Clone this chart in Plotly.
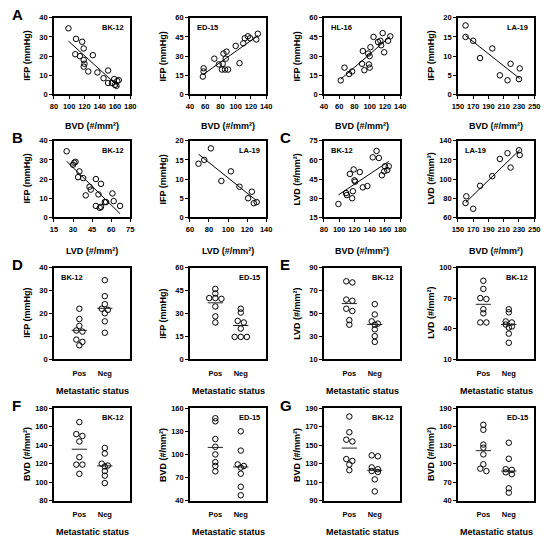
import numpy as np
import plotly.graph_objects as go

# ---------------- data ----------------
# Panel A : IFP vs BVD
A_BK12_bvd = [99, 109, 108, 114, 117, 119, 119, 120, 119, 125, 131, 137, 145, 151, 151, 156, 159, 160, 162, 163, 165]
A_BK12_ifp = [34.5, 29, 21, 20, 27.5, 24, 18, 16, 14.5, 12, 20.5, 11.5, 8.5, 12.5, 6, 6, 8, 5, 4.5, 7, 7.5]
A_ED15_bvd = [57, 58, 58, 72, 78, 82, 83, 84, 86, 87, 88, 90, 100, 105, 110, 112, 116, 119, 127, 129]
A_ED15_ifp = [14, 20.5, 18, 28, 23.5, 19.5, 24, 32, 19.5, 28, 33.5, 19.5, 38, 24.5, 40, 44, 45.5, 44, 43, 47.5]
A_HL16_bvd = [62, 67, 73, 77, 90, 91, 93, 98, 99, 100, 100, 101, 105, 111, 114, 115, 117, 119, 124, 127]
A_HL16_ifp = [11, 21, 16, 18, 24, 34, 19, 32, 23.5, 30, 21, 37, 45, 41, 42, 38.5, 48, 33, 42, 45.5]
A_LA19_bvd = [160, 160, 170, 179, 195, 205, 215, 219, 230, 231]
A_LA19_ifp = [18, 15, 14, 9.5, 12, 5, 3.7, 8, 4, 6.8]
# Panel B : IFP vs LVD
B_BK12_lvd = [25, 30, 31, 32, 34, 35, 38, 40, 43, 44, 48, 48, 50, 51, 52, 55, 56, 61, 62, 67, 52]
B_BK12_ifp = [34.5, 27.5, 28.5, 29, 21, 24, 20.5, 11.5, 16, 14.5, 20, 6, 12, 5, 17.5, 8, 8, 12.5, 8.5, 6, 5.5]
B_LA19_lvd = [69, 75, 82, 93, 103, 112, 121, 125, 127, 130]
B_LA19_ifp = [14, 15, 18, 9.5, 12, 8, 5, 6.7, 3.7, 4]
# Panel C : LVD vs BVD
C_BK12_bvd = [99, 109, 110, 114, 117, 118, 119, 120, 121, 127, 131, 137, 144, 149, 152, 156, 159, 160, 163, 165]
C_BK12_lvd = [25.5, 34, 32.5, 49, 30, 35.5, 52.5, 44, 43, 50.5, 38.5, 39.5, 62, 67, 61.5, 48, 51, 55, 52, 55]
C_LA19_bvd = [160, 161, 170, 179, 195, 205, 215, 219, 230, 231]
C_LA19_lvd = [75, 82, 69, 93, 103, 121, 127, 112, 130, 125]
# Panels D-G : by metastatic status
status_labels = ["Pos", "Neg"]
D_BK12_pos = [22, 17.5, 14.5, 12, 12.5, 8.5, 7.5, 6]
D_BK12_neg = [34.5, 27.5, 24, 21.5, 22, 20, 16.5, 11.5]
D_ED15_pos = [46, 43, 40, 40, 39.5, 34.5, 28, 24]
D_ED15_neg = [33, 30.5, 25, 24, 20, 14.5, 14.5, 14.5]
E_BK12a_pos = [78, 77, 62, 61, 54, 52, 44, 40]
E_BK12a_neg = [58, 49, 43, 41, 40, 36, 30, 25]
E_BK12b_pos = [87, 79, 70, 69, 59, 55, 46, 46]
E_BK12b_neg = [59, 56, 47, 46, 44, 42, 41, 35, 26]
F_BK12_pos = [165, 152, 150, 144, 127, 119, 119, 109]
F_BK12_neg = [137, 131, 120, 118, 117, 112, 107, 99]
F_ED15_pos = [147, 143, 120, 110, 100, 90, 85, 78]
F_ED15_neg = [130, 105, 87, 85, 83, 75, 58, 47]
G_BK12_pos = [181, 164, 156, 154, 135, 133, 129, 123]
G_BK12_neg = [139, 138, 126, 124, 122, 121, 113, 100]
G_ED15_pos = [163, 155, 131, 126, 115, 99, 92, 88]
G_ED15_neg = [134, 108, 91, 90, 86, 83, 60, 53]

IFP_T = "IFP (mmHg)"
BVD_T = "BVD (#/mm²)"
LVD_T = "LVD (#/mm²)"
MET_T = "Metastatic status"

# ---------------- layout geometry ----------------
W, H = 550, 545
COL_L = [49, 188, 325, 462]
BOX_W = 78
ROWS = [(14, 92), (139, 217), (268, 361), (411, 505)]
XT_Y = [124, 251, 393, 537]
FONT = "Liberation Sans, Arial, sans-serif"

panels = [
    dict(kind="sc", x=A_BK12_bvd, y=A_BK12_ifp, xr=(80, 180), xd=20, yr=(0, 40), yd=10, xt=BVD_T, yt=IFP_T, tag="BK-12", side="r", r=0, c=0),
    dict(kind="sc", x=A_ED15_bvd, y=A_ED15_ifp, xr=(40, 140), xd=20, yr=(0, 60), yd=15, xt=BVD_T, yt=IFP_T, tag="ED-15", side="l", r=0, c=1),
    dict(kind="sc", x=A_HL16_bvd, y=A_HL16_ifp, xr=(40, 140), xd=20, yr=(0, 60), yd=15, xt=BVD_T, yt=IFP_T, tag="HL-16", side="l", r=0, c=2),
    dict(kind="sc", x=A_LA19_bvd, y=A_LA19_ifp, xr=(150, 250), xd=20, yr=(0, 20), yd=5, xt=BVD_T, yt=IFP_T, tag="LA-19", side="r", r=0, c=3),
    dict(kind="sc", x=B_BK12_lvd, y=B_BK12_ifp, xr=(15, 75), xd=15, yr=(0, 40), yd=10, xt=LVD_T, yt=IFP_T, tag="BK-12", side="r", r=1, c=0),
    dict(kind="sc", x=B_LA19_lvd, y=B_LA19_ifp, xr=(60, 140), xd=20, yr=(0, 20), yd=5, xt=LVD_T, yt=IFP_T, tag="LA-19", side="r", r=1, c=1),
    dict(kind="sc", x=C_BK12_bvd, y=C_BK12_lvd, xr=(80, 180), xd=20, yr=(15, 75), yd=15, xt=BVD_T, yt=LVD_T, tag="BK-12", side="l", r=1, c=2),
    dict(kind="sc", x=C_LA19_bvd, y=C_LA19_lvd, xr=(150, 250), xd=20, yr=(60, 140), yd=20, xt=BVD_T, yt=LVD_T, tag="LA-19", side="l", r=1, c=3),
    dict(kind="cat", p=D_BK12_pos, n=D_BK12_neg, yr=(0, 40), yd=10, xt=MET_T, yt=IFP_T, tag="BK-12", side="l", r=2, c=0),
    dict(kind="cat", p=D_ED15_pos, n=D_ED15_neg, yr=(0, 60), yd=15, xt=MET_T, yt=IFP_T, tag="ED-15", side="r", r=2, c=1),
    dict(kind="cat", p=E_BK12a_pos, n=E_BK12a_neg, yr=(10, 90), yd=20, xt=MET_T, yt=LVD_T, tag="BK-12", side="r", r=2, c=2),
    dict(kind="cat", p=E_BK12b_pos, n=E_BK12b_neg, yr=(10, 100), yd=30, xt=MET_T, yt=LVD_T, tag="BK-12", side="r", r=2, c=3),
    dict(kind="cat", p=F_BK12_pos, n=F_BK12_neg, yr=(80, 180), yd=20, xt=MET_T, yt=BVD_T, tag="BK-12", side="r", r=3, c=0),
    dict(kind="cat", p=F_ED15_pos, n=F_ED15_neg, yr=(40, 160), yd=30, xt=MET_T, yt=BVD_T, tag="ED-15", side="r", r=3, c=1),
    dict(kind="cat", p=G_BK12_pos, n=G_BK12_neg, yr=(90, 190), yd=20, xt=MET_T, yt=BVD_T, tag="BK-12", side="r", r=3, c=2),
    dict(kind="cat", p=G_ED15_pos, n=G_ED15_neg, yr=(40, 190), yd=30, xt=MET_T, yt=BVD_T, tag="ED-15", side="r", r=3, c=3),
]

letters = [("A", 0, 0), ("B", 1, 0), ("C", 1, 2), ("D", 2, 0), ("E", 2, 2), ("F", 3, 0), ("G", 3, 2)]


def swarm_offsets(vals, span, step=0.24, thr=0.03):
    vals = np.asarray(vals, float)
    order = np.argsort(-vals)
    offs = np.zeros(len(vals))
    groups, cur = [], [order[0]]
    for i in order[1:]:
        if abs(vals[cur[0]] - vals[i]) < thr * span:
            cur.append(i)
        else:
            groups.append(cur)
            cur = [i]
    groups.append(cur)
    for g in groups:
        k = len(g)
        for j, idx in enumerate(g):
            offs[idx] = (j - (k - 1) / 2) * step
    return offs


fig = go.Figure()
layout = {}
ann = []
axis_base = dict(showline=True, linecolor="black", linewidth=1.5, mirror=True,
                 showgrid=False, zeroline=False, fixedrange=True, tickangle=0,
                 tickfont=dict(family=FONT, size=7.5, color="black", weight="bold"))

marker = dict(symbol="circle-open", size=5.5, color="black", line=dict(width=1, color="black"))

for k, p in enumerate(panels):
    sfx = "" if k == 0 else str(k + 1)
    x0 = COL_L[p["c"]]
    x1 = x0 + BOX_W
    y0, y1 = ROWS[p["r"]]
    xdom = [x0 / W, x1 / W]
    ydom = [1 - y1 / H, 1 - y0 / H]
    xa = dict(axis_base, domain=xdom, anchor="y" + sfx)
    ya = dict(axis_base, domain=ydom, anchor="x" + sfx,
              range=list(p["yr"]), tick0=p["yr"][0], dtick=p["yd"],
              ticks="outside", ticklen=3, tickwidth=1, tickcolor="black")
    if p["kind"] == "sc":
        xa.update(range=list(p["xr"]), tick0=p["xr"][0], dtick=p["xd"],
                  ticks="outside", ticklen=3, tickwidth=1, tickcolor="black",
                  ticklabelstandoff=1)
        fig.add_trace(go.Scatter(x=p["x"], y=p["y"], mode="markers", marker=marker,
                                 xaxis="x" + sfx, yaxis="y" + sfx, showlegend=False))
        xs = np.asarray(p["x"], float)
        ys = np.asarray(p["y"], float)
        m, b = np.polyfit(xs, ys, 1)
        lx = np.array([xs.min(), xs.max()])
        fig.add_trace(go.Scatter(x=lx, y=m * lx + b, mode="lines",
                                 line=dict(color="black", width=1),
                                 xaxis="x" + sfx, yaxis="y" + sfx, showlegend=False))
    else:
        xa.update(range=[0, 3], tickvals=[1, 2], ticktext=status_labels, ticks="",
                  ticklabelstandoff=6)
        span = p["yr"][1] - p["yr"][0]
        for ci, vals in enumerate([p["p"], p["n"]]):
            offs = swarm_offsets(vals, span)
            xc = ci + 1
            fig.add_trace(go.Scatter(x=xc + offs, y=vals, mode="markers", marker=marker,
                                     xaxis="x" + sfx, yaxis="y" + sfx, showlegend=False))
            mu = float(np.mean(vals))
            fig.add_trace(go.Scatter(x=[xc - 0.3, xc + 0.3], y=[mu, mu], mode="lines",
                                     line=dict(color="#222", width=1),
                                     xaxis="x" + sfx, yaxis="y" + sfx, showlegend=False))
    layout["xaxis" + sfx] = xa
    layout["yaxis" + sfx] = ya

    # axis titles
    ann.append(dict(text=p["xt"], x=(x0 + x1) / 2 / W, y=1 - XT_Y[p["r"]] / H,
                    xref="paper", yref="paper", showarrow=False, xanchor="center", yanchor="middle",
                    font=dict(family=FONT, size=9, color="black", weight="bold")))
    ann.append(dict(text=p["yt"], x=(x0 - 27) / W, y=1 - (y0 + y1) / 2 / H, textangle=-90,
                    xref="paper", yref="paper", showarrow=False, xanchor="center", yanchor="middle",
                    font=dict(family=FONT, size=9, color="black", weight="bold")))
    # panel tag
    if p["side"] == "r":
        ann.append(dict(text=p["tag"], x=(x1 - 4) / W, y=1 - (y0 + 3) / H, xref="paper", yref="paper",
                        showarrow=False, xanchor="right", yanchor="top",
                        font=dict(family=FONT, size=7.5, color="black", weight="bold")))
    else:
        ann.append(dict(text=p["tag"], x=(x0 + 5) / W, y=1 - (y0 + 3) / H, xref="paper", yref="paper",
                        showarrow=False, xanchor="left", yanchor="top",
                        font=dict(family=FONT, size=7.5, color="black", weight="bold")))

for L, r, c in letters:
    lx = 4 if c == 0 else 278
    ann.append(dict(text=L, x=lx / W, y=1 - (ROWS[r][0] - 3) / H, xref="paper", yref="paper",
                    showarrow=False, xanchor="left", yanchor="middle",
                    font=dict(family=FONT, size=15, color="black", weight="bold")))

fig.update_layout(**layout)
fig.update_layout(width=W, height=H, margin=dict(l=0, r=0, t=0, b=0),
                  paper_bgcolor="white", plot_bgcolor="white", annotations=ann,
                  font=dict(family=FONT, color="black"))
fig.write_html("out.html", config={"displayModeBar": False},
               post_script="document.body.style.margin='0px';")
